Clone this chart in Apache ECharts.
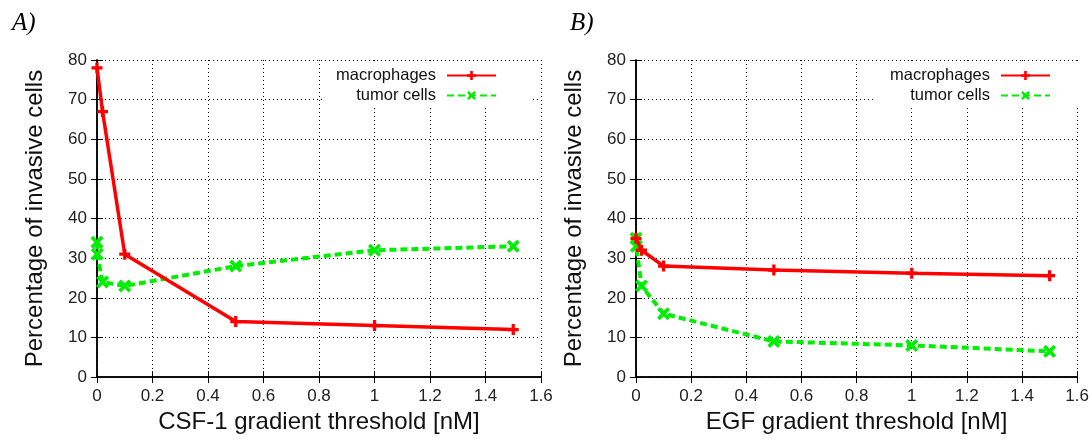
<!DOCTYPE html>
<html lang="en">

<head>
    <meta charset="UTF-8">
    <title>Invasive cells</title>
    <script src="https://cdn.jsdelivr.net/npm/echarts@6/dist/echarts.min.js"></script>
    <style>
        html, body { margin: 0; padding: 0; background: #fff; }
        #main { width: 1092px; height: 439px; }
    </style>
</head>

<body>
    <div id="main"></div>
    <script>
        // panel A: CSF-1 gradient
        var csfX = [0, 0.02, 0.1, 0.5, 1, 1.5];
        var csfMacro = [78, 67, 31, 14, 13, 12];
        var csfTumorX = [0, 0.001, 0.02, 0.1, 0.5, 1, 1.5];
        var csfTumor = [34, 31, 24, 23, 28, 32, 33];

        // panel B: EGF gradient
        var egfX = [0, 0.02, 0.1, 0.5, 1, 1.5];
        var egfMacro = [35, 32, 28, 27, 26.2, 25.6];
        var egfTumorX = [0, 0.001, 0.02, 0.1, 0.5, 1, 1.5];
        var egfTumor = [35, 33, 23, 16, 9, 8, 6.5];

        var xTitles = ['CSF-1 gradient threshold [nM]', 'EGF gradient threshold [nM]'];
        var yTitle = 'Percentage of invasive cells';
        var panelLabels = ['A)', 'B)'];

        function pairs(xs, ys) {
            return xs.map(function (x, i) { return [x, ys[i]]; });
        }

        var plusMark = 'path://M3.5,0H6.5V3.5H10V6.5H6.5V10H3.5V6.5H0V3.5H3.5Z';
        var crossMark = 'path://M0,2L2,0L5,3L8,0L10,2L7,5L10,8L8,10L5,7L2,10L0,8L3,5Z';
        var font = 'Liberation Sans, Arial, sans-serif';

        var grids = [
            { left: 97, right: 551, top: 60, bottom: 60 },
            { left: 636, right: 11, top: 60, bottom: 60 }
        ];

        var xAxes = [], yAxes = [];
        [0, 1].forEach(function (g) {
            xAxes.push({
                type: 'value', gridIndex: g, min: 0, max: 1.6, interval: 0.2,
                name: xTitles[g], nameLocation: 'middle', nameGap: 24,
                nameTextStyle: { fontFamily: font, fontSize: 24, color: '#111' },
                axisLine: { lineStyle: { color: '#000', width: 1.5 } },
                axisTick: { inside: true, length: 6, lineStyle: { color: '#000' } },
                axisLabel: { fontFamily: font, fontSize: 17, color: '#222', margin: 11 },
                splitLine: { show: true, lineStyle: { color: '#000', type: [1, 3], width: 1 } }
            });
            xAxes.push({
                type: 'value', gridIndex: g, min: 0, max: 1.6, interval: 0.2, position: 'top',
                axisLine: { show: true, lineStyle: { color: '#000', width: 1.5 } },
                axisTick: { show: true, inside: true, length: 6, lineStyle: { color: '#000' } },
                axisLabel: { show: false }, splitLine: { show: false }
            });
            yAxes.push({
                type: 'value', gridIndex: g, min: 0, max: 80, interval: 10,
                name: yTitle, nameLocation: 'middle', nameGap: 50,
                nameTextStyle: { fontFamily: font, fontSize: 24, color: '#111' },
                axisLine: { show: true, lineStyle: { color: '#000', width: 1.5 } },
                axisTick: { show: true, inside: true, length: 6, lineStyle: { color: '#000' } },
                axisLabel: { fontFamily: font, fontSize: 17, color: '#222', margin: 10 },
                splitLine: { show: true, lineStyle: { color: '#000', type: [1, 3], width: 1 } }
            });
            yAxes.push({
                type: 'value', gridIndex: g, min: 0, max: 80, interval: 10, position: 'right',
                axisLine: { show: true, lineStyle: { color: '#000', width: 1.5 } },
                axisTick: { show: true, inside: true, length: 6, lineStyle: { color: '#000' } },
                axisLabel: { show: false }, splitLine: { show: false }
            });
        });

        function macroSeries(g, data) {
            return {
                name: 'macrophages', type: 'line', xAxisIndex: g * 2, yAxisIndex: g * 2,
                data: data, symbol: plusMark, symbolSize: 11,
                itemStyle: { color: '#ff0000' },
                lineStyle: { color: '#ff0000', width: 3.5 }, z: 3
            };
        }
        function tumorSeries(g, data) {
            return {
                name: 'tumor cells', type: 'line', xAxisIndex: g * 2, yAxisIndex: g * 2,
                data: data, symbol: crossMark, symbolSize: 13,
                itemStyle: { color: '#00ee00' },
                lineStyle: { color: '#00ee00', width: 4, type: [7, 4] }, z: 2
            };
        }

        function legendFor(right) {
            return {
                orient: 'vertical', align: 'right', right: right, top: 64,
                itemWidth: 49, itemHeight: 11, itemGap: 3,
                backgroundColor: '#fff', padding: [3, 36, 4, 14],
                textStyle: { fontFamily: font, fontSize: 16.5, color: '#111', padding: [0, 6, 0, 0] },
                data: ['macrophages', 'tumor cells']
            };
        }

        var myChart = echarts.init(document.getElementById('main'));
        var option = {
            animation: false,
            backgroundColor: '#fff',
            title: [
                { text: panelLabels[0], left: 7, top: 6, textStyle: { fontFamily: 'Liberation Serif, serif', fontStyle: 'italic', fontWeight: 'normal', fontSize: 25, color: '#000' } },
                { text: panelLabels[1], left: 565, top: 6, textStyle: { fontFamily: 'Liberation Serif, serif', fontStyle: 'italic', fontWeight: 'normal', fontSize: 25, color: '#000' } }
            ],
            legend: [legendFor(1092 - 497 - 36), legendFor(1092 - 1051 - 36)],
            grid: grids,
            xAxis: xAxes,
            yAxis: yAxes,
            series: [
                macroSeries(0, pairs(csfX, csfMacro)),
                tumorSeries(0, pairs(csfTumorX, csfTumor)),
                macroSeries(1, pairs(egfX, egfMacro)),
                tumorSeries(1, pairs(egfTumorX, egfTumor))
            ]
        };
        myChart.setOption(option);
    </script>
</body>

</html>
